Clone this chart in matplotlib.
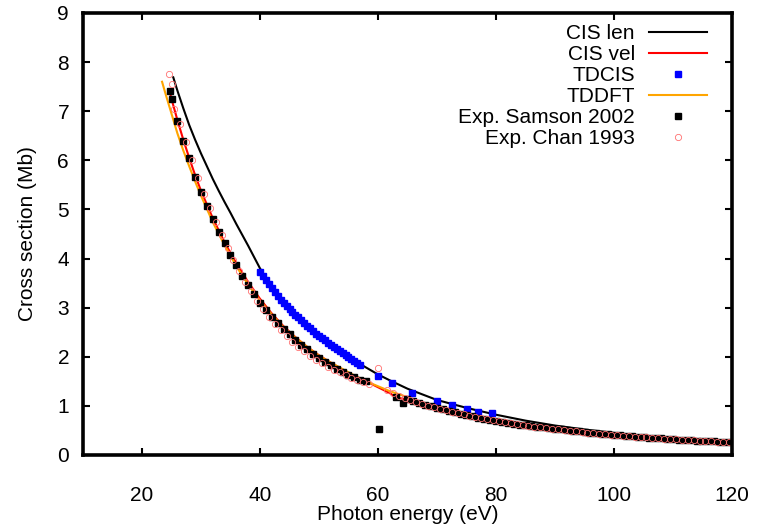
import matplotlib
matplotlib.use('Agg')
import matplotlib.pyplot as plt

plt.rcParams['font.family'] = ['Liberation Sans', 'DejaVu Sans']

# CIS len (black line)
cis_len_e = [25.3, 26, 27, 28, 29, 30, 31, 32, 33, 34, 35, 36, 37, 38, 39, 40,
             42, 44, 46, 48, 50, 52, 54, 56, 58, 60, 62, 65, 70, 75, 80, 85, 90,
             95, 100, 105, 110, 115, 120]
cis_len = [7.69, 7.42, 7.06, 6.72, 6.42, 6.14, 5.88, 5.62, 5.38, 5.15, 4.93, 4.70,
           4.48, 4.26, 4.03, 3.80, 3.42, 3.12, 2.85, 2.62, 2.42, 2.24, 2.08, 1.92,
           1.78, 1.64, 1.52, 1.35, 1.12, 0.96, 0.82, 0.70, 0.60, 0.52, 0.45, 0.39,
           0.34, 0.30, 0.27]

# CIS vel (red line)
cis_vel_e = [24.6, 25, 26, 27, 28, 29, 30, 32, 34, 36, 38, 40, 42, 44, 46, 48, 50,
             52, 54, 56, 58, 60, 62, 63, 65, 68, 70, 75, 80, 85, 90, 95, 100, 105,
             110, 115, 120]
cis_vel = [7.45, 7.25, 6.82, 6.42, 6.05, 5.70, 5.38, 4.82, 4.33, 3.90, 3.52, 3.18,
           2.88, 2.62, 2.40, 2.20, 2.03, 1.88, 1.74, 1.60, 1.50, 1.38, 1.26, 1.18,
           1.12, 1.03, 0.97, 0.82, 0.71, 0.62, 0.54, 0.47, 0.41, 0.365, 0.32, 0.285,
           0.255]

# TDCIS (blue squares)
tdcis_e = [40.0, 40.5, 41.0, 41.5, 42.0, 42.5, 43.0, 43.5, 44.0, 44.5, 45.0, 45.5,
           46.0, 46.5, 47.0, 47.5, 48.0, 48.5, 49.0, 49.5, 50.0, 50.5, 51.0, 51.5,
           52.0, 52.5, 53.0, 53.5, 54.0, 54.5, 55.0, 55.5, 56.0, 56.5, 57.0,
           60.0, 62.4, 65.8, 70.0, 72.5, 75.1, 77.0, 79.3]
tdcis = [3.73, 3.64, 3.56, 3.48, 3.40, 3.32, 3.24, 3.16, 3.10, 3.04, 2.98, 2.92,
         2.86, 2.80, 2.74, 2.68, 2.63, 2.58, 2.52, 2.47, 2.43, 2.38, 2.34, 2.29,
         2.24, 2.20, 2.16, 2.11, 2.07, 2.03, 1.99, 1.95, 1.91, 1.87, 1.84,
         1.60, 1.47, 1.27, 1.10, 1.02, 0.94, 0.88, 0.85]

# TDDFT (orange line)
tddft_e = [23.4, 24, 25, 26, 27, 28, 29, 30, 32, 34, 36, 38, 40, 42, 44, 46, 48, 50,
           52, 54, 56, 58, 60, 62, 64, 66, 68, 70, 75, 80, 90, 100, 110, 120]
tddft = [7.60, 7.35, 6.95, 6.55, 6.20, 5.88, 5.57, 5.28, 4.74, 4.27, 3.84, 3.47,
         3.14, 2.86, 2.60, 2.39, 2.20, 2.02, 1.88, 1.75, 1.62, 1.50, 1.40, 1.30,
         1.22, 1.13, 1.05, 0.97, 0.82, 0.71, 0.54, 0.42, 0.33, 0.26]

# Exp. Samson 2002 (black squares)
samson_e = [24.7, 25, 26, 27, 28, 29, 30, 31, 32, 33, 34, 35, 36, 37, 38, 39, 40,
            41, 42, 43, 44, 45, 46, 47, 48, 49, 50, 51, 52, 53, 54, 55, 56, 57, 58,
            60.1, 63, 64.2, 65, 66, 67, 68, 69, 70, 71, 72, 73, 74, 75, 76, 77, 78,
            79, 80, 81, 82, 83, 84, 85, 86, 87, 88, 89, 90, 91, 92, 93, 94, 95, 96,
            97, 98, 99, 100, 101, 102, 103, 104, 105, 106, 107, 108, 109, 110, 111,
            112, 113, 114, 115, 116, 117, 118, 119, 120]
samson = [7.42, 7.25, 6.80, 6.39, 6.04, 5.67, 5.35, 5.08, 4.80, 4.55, 4.31, 4.08,
          3.86, 3.65, 3.46, 3.28, 3.10, 2.95, 2.82, 2.69, 2.57, 2.46, 2.35, 2.25,
          2.15, 2.06, 1.98, 1.90, 1.83, 1.76, 1.69, 1.63, 1.58, 1.53, 1.50,
          0.52, 1.18, 1.05, 1.14, 1.10, 1.06, 1.02, 0.99, 0.96, 0.93, 0.90, 0.87,
          0.84, 0.81, 0.79, 0.76, 0.74, 0.72, 0.70, 0.68, 0.66, 0.64, 0.62, 0.61,
          0.59, 0.57, 0.56, 0.54, 0.53, 0.52, 0.50, 0.49, 0.48, 0.46, 0.45, 0.44,
          0.43, 0.42, 0.41, 0.40, 0.39, 0.38, 0.37, 0.36, 0.355, 0.35, 0.34, 0.33,
          0.32, 0.315, 0.31, 0.30, 0.295, 0.29, 0.28, 0.275, 0.27, 0.26, 0.255]

# Exp. Chan 1993 (pink open circles)
chan_e = [24.6, 25.0, 25.5, 26.5, 27.5, 28.5, 29.5, 30.5, 31.5, 32.5, 33.5, 34.5,
          35.5, 36.5, 37.5, 38.5, 39.5, 40.5, 41.5, 42.5, 43.5, 44.5, 45.5, 46.5,
          47.5, 48.5, 49.5, 50.5, 51.5, 52.5, 53.5, 54.5, 55.5, 56.5, 57.5, 58.5,
          60.0, 61.5, 62.5, 63.5, 64.5, 65.5, 66.5, 67.5, 68.5, 69.5, 70.5, 71.5,
          72.5, 73.5, 74.5, 75.5, 76.5, 77.5, 78.5, 79.5, 80.5, 81.5, 82.5, 83.5,
          84.5, 85.5, 86.5, 87.5, 88.5, 89.5, 90.5, 91.5, 92.5, 93.5, 94.5, 95.5,
          96.5, 97.5, 98.5, 99.5, 100.5, 101.5, 102.5, 103.5, 104.5, 105.5, 106.5,
          107.5, 108.5, 109.5, 110.5, 111.5, 112.5, 113.5, 114.5, 115.5, 116.5,
          117.5, 118.5, 119.5]
chan = [7.76, 7.55, 7.05, 6.75, 6.38, 6.00, 5.64, 5.32, 5.02, 4.74, 4.48, 4.22,
        3.98, 3.75, 3.53, 3.33, 3.14, 2.97, 2.81, 2.67, 2.54, 2.42, 2.31, 2.20,
        2.11, 2.02, 1.94, 1.87, 1.80, 1.74, 1.68, 1.62, 1.57, 1.52, 1.48, 1.44,
        1.77, 1.32, 1.26, 1.20, 1.16, 1.12, 1.08, 1.04, 1.00, 0.97, 0.94, 0.91,
        0.88, 0.85, 0.83, 0.80, 0.78, 0.75, 0.73, 0.71, 0.69, 0.67, 0.65, 0.63,
        0.615, 0.60, 0.58, 0.565, 0.55, 0.535, 0.525, 0.51, 0.495, 0.485, 0.47,
        0.455, 0.445, 0.435, 0.425, 0.415, 0.405, 0.395, 0.385, 0.375, 0.365,
        0.358, 0.352, 0.345, 0.335, 0.325, 0.318, 0.312, 0.305, 0.298, 0.292,
        0.285, 0.278, 0.272, 0.265, 0.258]

fig = plt.figure(figsize=(7.58, 5.29), dpi=100)
ax = fig.add_axes([83/758, 74/529, 649/758, 442/529])

ax.plot(cis_len_e, cis_len, color='black', lw=1.5, label='CIS len')
ax.plot(cis_vel_e, cis_vel, color='#ff0000', lw=1.5, label='CIS vel')
ax.plot(tdcis_e, tdcis, ls='none', marker='s', ms=4.5, color='#0000ff', label='TDCIS')
ax.plot(tddft_e, tddft, color='#ffa500', lw=1.5, label='TDDFT')
ax.plot(samson_e, samson, ls='none', marker='s', ms=3.8, color='black',
        label='Exp. Samson 2002')
ax.plot(chan_e, chan, ls='none', marker='o', ms=4.5, mfc='none', mec='#ff7070',
        mew=0.6, label='Exp. Chan 1993')

ax.set_xlim(10, 120)
ax.set_ylim(0, 9)
ax.set_xticks(range(20, 121, 20))
ax.set_yticks(range(0, 10))
ax.tick_params(direction='in', length=5, width=1.5, top=True, right=True,
               labelsize=15, colors='black')
ax.tick_params(axis='x', pad=22)
ax.tick_params(axis='y', pad=10)
for s in ax.spines.values():
    s.set_linewidth(2.6)

ax.set_xlabel('Photon energy (eV)', fontsize=15, labelpad=0)
ax.set_ylabel('Cross section (Mb)', fontsize=15, labelpad=15)

leg = ax.legend(loc='upper right', bbox_to_anchor=(0.961, 0.975), frameon=False,
                markerfirst=False, fontsize=15, handlelength=2.75,
                labelspacing=0.1, borderaxespad=0, borderpad=0,
                handletextpad=0.7, numpoints=1)

fig.savefig('out.png', dpi=100)
